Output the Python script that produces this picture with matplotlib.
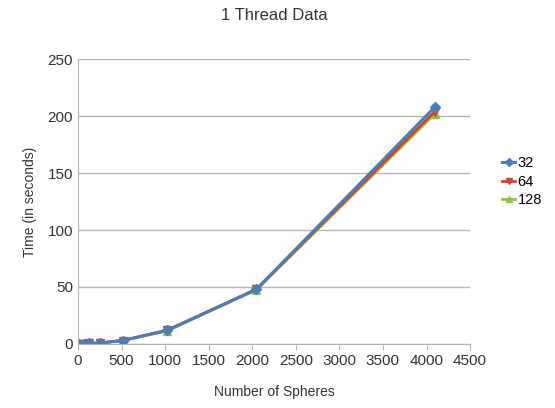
import matplotlib.pyplot as plt

plt.rcParams['font.family'] = ['Liberation Sans', 'DejaVu Sans']

spheres = [16, 64, 128, 256, 512, 1024, 2048, 4096]
t32 = [0.1, 0.2, 0.5, 0.9, 3.0, 12.0, 48.0, 208.0]
t64 = [0.1, 0.2, 0.5, 0.9, 3.0, 12.0, 48.0, 204.0]
t128 = [0.1, 0.2, 0.5, 0.9, 3.0, 11.5, 47.5, 202.0]
labels = ["32", "64", "128"]

fig = plt.figure(figsize=(5.55, 4.08), dpi=100)
ax = fig.add_axes([0.1405, 0.157, 0.7065, 0.698])

ax.plot(spheres, t128, color="#8cc63f", marker="^", markersize=6, lw=2, label=labels[2])
ax.plot(spheres, t64, color="#d9412f", marker="v", markersize=6, lw=2, label=labels[1])
ax.plot(spheres, t32, color="#4a7ebb", marker="D", markersize=5, lw=2.2, label=labels[0])

ax.set_xlim(0, 4500)
ax.set_ylim(0, 250)
ax.set_xticks(range(0, 4501, 500))
ax.set_yticks(range(0, 251, 50))
ax.grid(axis="y", color="#b3b3b3", lw=1)
ax.set_axisbelow(True)
for s in ["top", "right"]:
    ax.spines[s].set_visible(False)
for s in ["left", "bottom"]:
    ax.spines[s].set_color("#b3b3b3")
ax.tick_params(labelsize=11, length=4, direction="out")
ax.tick_params(axis="x", colors="#b3b3b3", labelcolor="#333333")
ax.tick_params(axis="y", length=0, labelcolor="#333333")

ax.set_title("1 Thread Data", fontsize=12, color="#333333", pad=28)
ax.set_xlabel("Number of Spheres", fontsize=10, color="#333333", labelpad=12)
ax.set_ylabel("Time (in seconds)", fontsize=10, color="#333333", labelpad=8)

h, l = ax.get_legend_handles_labels()
ax.legend(h[::-1], l[::-1], loc="center left", bbox_to_anchor=(1.06, 0.57),
          frameon=False, fontsize=10.5, handlelength=0.9, handletextpad=0.15,
          labelspacing=0.3, markerscale=0.8, borderaxespad=0.2)

fig.savefig("out.png", dpi=100)
